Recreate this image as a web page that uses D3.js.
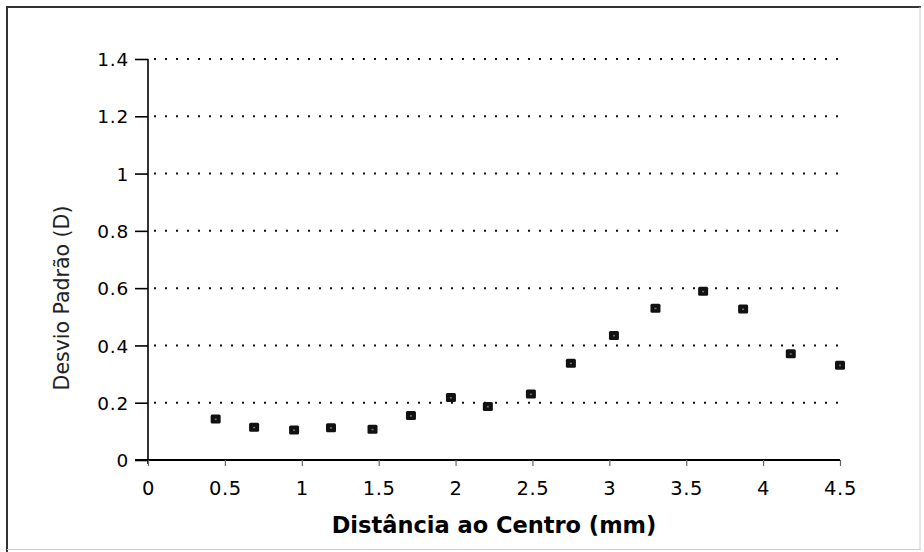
<!DOCTYPE html>
<html><head><meta charset="utf-8">
<script src="https://cdnjs.cloudflare.com/ajax/libs/d3/7.8.5/d3.min.js"></script>
<style>html,body{margin:0;padding:0;background:#fff;}svg{display:block;}</style>
</head><body>
<svg id="c" width="924" height="552"></svg>
<script>
const distance = [0.44,0.69,0.95,1.19,1.46,1.71,1.97,2.21,2.49,2.75,3.03,3.30,3.61,3.87,4.18,4.50];
const stdDev   = [0.143,0.114,0.105,0.113,0.107,0.155,0.218,0.187,0.230,0.338,0.435,0.530,0.589,0.527,0.371,0.331];
const xTicks = [0,0.5,1,1.5,2,2.5,3,3.5,4,4.5];
const yTicks = [0,0.2,0.4,0.6,0.8,1,1.2,1.4];
const xTitle = "Distância ao Centro (mm)";
const yTitle = "Desvio Padrão (D)";

const svg = d3.select("#c");
const x = d3.scaleLinear().domain([0,4.5]).range([148,840]);
const y = d3.scaleLinear().domain([0,1.4]).range([460,59]);

// frame
svg.append("line").attr("x1",7).attr("x2",921).attr("y1",7).attr("y2",7).attr("stroke","#333").attr("stroke-width",2);
svg.append("line").attr("x1",7).attr("x2",7).attr("y1",6).attr("y2",552).attr("stroke","#333").attr("stroke-width",2);
svg.append("line").attr("x1",920).attr("x2",920).attr("y1",7).attr("y2",550).attr("stroke","#ccc").attr("stroke-width",1);
svg.append("line").attr("x1",7).attr("x2",921).attr("y1",549.5).attr("y2",549.5).attr("stroke","#ccc").attr("stroke-width",1);

// dotted gridlines
svg.append("g").selectAll("line").data(yTicks.filter(d=>d>0)).join("line")
  .attr("x1",x(0)+6).attr("x2",x(4.5)+1).attr("y1",d=>y(d)).attr("y2",d=>y(d))
  .attr("stroke","#111").attr("stroke-width",2).attr("stroke-dasharray","2,9");

// y axis
const yAxis = d3.axisLeft(y).tickValues(yTicks).tickSize(13).tickPadding(6).tickFormat(d3.format("~g"));
const gy = svg.append("g").attr("transform",`translate(${x(0)},0)`).call(yAxis);
gy.select(".domain").attr("stroke","#000").attr("stroke-width",1.6).attr("d",`M0,${y(1.4)}V${y(0)+4}`);
gy.selectAll(".tick line").attr("stroke","#000").attr("stroke-width",1.6);
gy.selectAll(".tick text").attr("font-family","DejaVu Sans").attr("font-size",18.5).attr("letter-spacing","0.8px").attr("fill","#000").attr("dy","0.36em");

// x axis
const xAxis = d3.axisBottom(x).tickValues(xTicks).tickSize(6).tickPadding(15).tickFormat(d3.format("~g"));
const gx = svg.append("g").attr("transform",`translate(0,${y(0)})`).call(xAxis);
gx.select(".domain").attr("stroke","#000").attr("stroke-width",1.8).attr("d",`M${x(0)-13},0H${x(4.5)}`);
gx.selectAll(".tick line").attr("stroke","#666").attr("stroke-width",1.2);
gx.selectAll(".tick text").attr("font-family","DejaVu Sans").attr("font-size",19.5).attr("letter-spacing","0.6px").attr("fill","#000");

// titles
svg.append("text").attr("x",(x(0)+x(4.5))/2).attr("y",533).attr("text-anchor","middle")
  .attr("font-family","DejaVu Sans").attr("font-weight","bold").attr("font-size",22.5).attr("fill","#000").text(xTitle);
svg.append("text").attr("transform",`translate(69,${298}) rotate(-90)`).attr("text-anchor","middle")
  .attr("font-family","DejaVu Sans").attr("font-size",20.5).attr("fill","#222").text(yTitle);

// markers
const pts = distance.map((d,i)=>({x:d,y:stdDev[i]}));
const gm = svg.append("g");
gm.selectAll("rect.m").data(pts).join("rect").attr("class","m")
  .attr("x",d=>x(d.x)-5).attr("y",d=>y(d.y)-4.5).attr("width",10).attr("height",9).attr("rx",1.5)
  .attr("fill","#111");
gm.selectAll("rect.w").data(pts).join("rect").attr("class","w")
  .attr("x",d=>x(d.x)-1).attr("y",d=>y(d.y)-0.5).attr("width",2).attr("height",1.5)
  .attr("fill","#777");
</script>
</body></html>
